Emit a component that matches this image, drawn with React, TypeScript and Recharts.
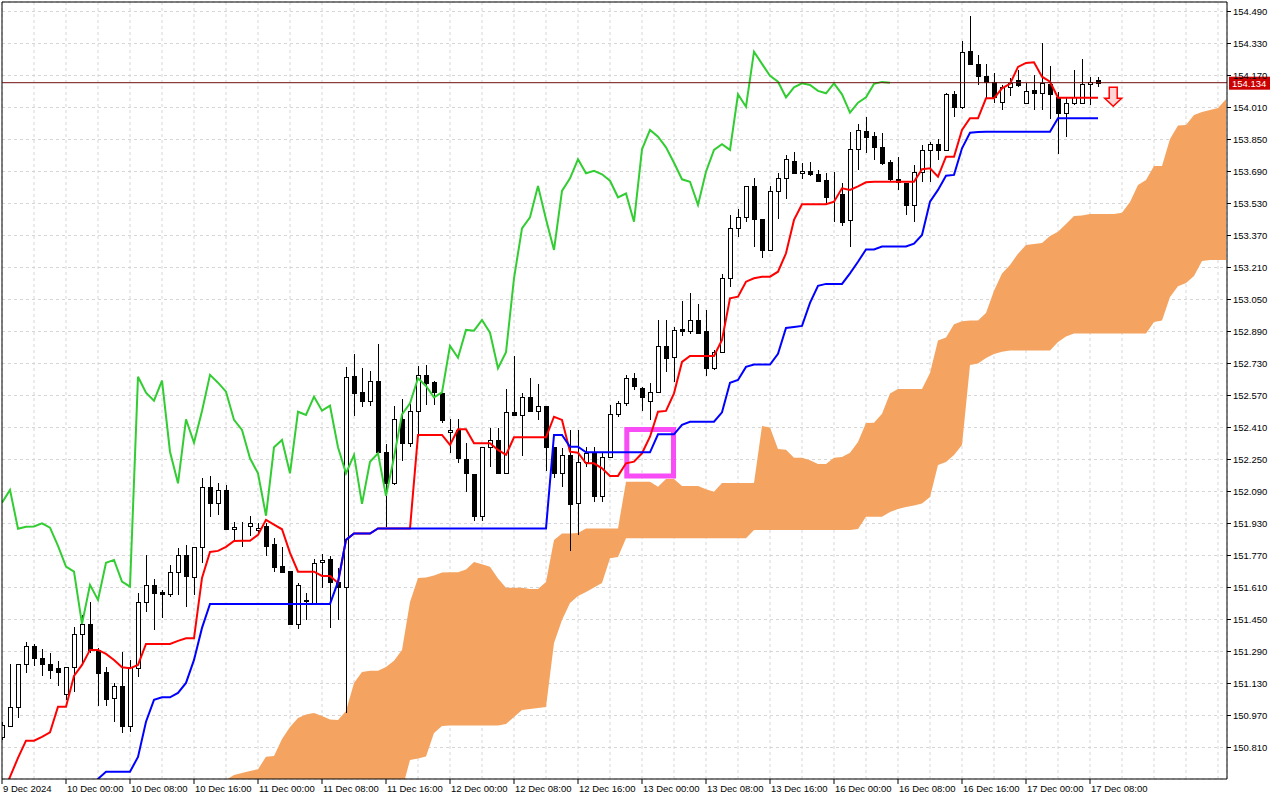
import {
  Area,
  Bar,
  CartesianGrid,
  ComposedChart,
  Line,
  ReferenceArea,
  ReferenceDot,
  ReferenceLine,
  XAxis,
  YAxis,
} from 'recharts'

// USDJPY H1, 9 Dec 16:00 .. 17 Dec 09:00, one row per bar: open, high, low, close
const CANDLES: [number, number, number, number][] = [
  [150.864, 150.938, 150.848, 150.923], [150.919, 151.228, 150.911, 151.011], [151.011, 151.228, 150.956, 151.226],
  [151.226, 151.339, 151.184, 151.316], [151.316, 151.328, 151.219, 151.256], [151.256, 151.301, 151.168, 151.226],
  [151.226, 151.281, 151.151, 151.199], [151.208, 151.244, 151.119, 151.186], [151.076, 151.211, 151.048, 151.211],
  [151.211, 151.414, 151.089, 151.376], [151.376, 151.473, 151.221, 151.426], [151.426, 151.536, 151.283, 151.298],
  [151.298, 151.308, 151.019, 151.184], [151.186, 151.214, 151.019, 151.054], [151.056, 151.134, 150.939, 151.116],
  [151.116, 151.289, 150.881, 150.919], [150.919, 151.248, 150.888, 151.214], [151.206, 151.581, 151.164, 151.539],
  [151.539, 151.773, 151.489, 151.623], [151.623, 151.653, 151.398, 151.584], [151.589, 151.598, 151.458, 151.576],
  [151.576, 151.723, 151.564, 151.689], [151.689, 151.808, 151.573, 151.773], [151.773, 151.823, 151.514, 151.668],
  [151.664, 151.811, 151.573, 151.811], [151.811, 152.156, 151.734, 152.111], [152.111, 152.168, 151.961, 152.034],
  [152.034, 152.131, 151.973, 152.098], [152.098, 152.123, 151.904, 151.904], [151.904, 151.939, 151.839, 151.914],
  [151.914, 151.939, 151.814, 151.915], [151.918, 151.968, 151.868, 151.931], [151.896, 151.931, 151.881, 151.909],
  [151.918, 151.931, 151.768, 151.818], [151.828, 151.856, 151.689, 151.714], [151.718, 151.811, 151.689, 151.689],
  [151.693, 151.693, 151.423, 151.428], [151.428, 151.631, 151.401, 151.623], [151.543, 151.581, 151.448, 151.548],
  [151.531, 151.751, 151.531, 151.734], [151.736, 151.776, 151.606, 151.748], [151.751, 151.768, 151.406, 151.639],
  [151.639, 151.708, 151.448, 151.614], [151.611, 152.711, 150.983, 152.664], [152.668, 152.778, 152.468, 152.584],
  [152.588, 152.706, 152.511, 152.544], [152.544, 152.694, 152.518, 152.644], [152.644, 152.828, 152.289, 152.289],
  [152.286, 152.328, 151.914, 152.131], [152.131, 152.518, 152.123, 152.451], [152.451, 152.551, 152.244, 152.334],
  [152.334, 152.534, 152.311, 152.493], [152.491, 152.718, 152.364, 152.673], [152.673, 152.723, 152.523, 152.634],
  [152.639, 152.644, 152.523, 152.589], [152.584, 152.589, 152.434, 152.448], [152.388, 152.451, 152.284, 152.398],
  [152.398, 152.451, 152.231, 152.256], [152.251, 152.331, 152.089, 152.181], [152.178, 152.178, 151.944, 151.969],
  [151.969, 152.311, 151.944, 152.311], [152.311, 152.406, 152.214, 152.348], [152.348, 152.406, 152.178, 152.181],
  [152.184, 152.601, 152.184, 152.489], [152.486, 152.768, 152.473, 152.473], [152.473, 152.581, 152.269, 152.564],
  [152.564, 152.656, 152.488, 152.494], [152.494, 152.626, 152.448, 152.519], [152.519, 152.519, 152.194, 152.311],
  [152.311, 152.311, 152.156, 152.181], [152.181, 152.306, 152.114, 152.273], [152.273, 152.398, 151.794, 152.028],
  [152.031, 152.398, 151.873, 152.239], [152.239, 152.314, 152.214, 152.281], [152.281, 152.314, 152.039, 152.068],
  [152.068, 152.281, 152.039, 152.261], [152.261, 152.523, 152.261, 152.476], [152.476, 152.544, 152.464, 152.531],
  [152.531, 152.673, 152.518, 152.656], [152.656, 152.684, 152.598, 152.618], [152.606, 152.614, 152.494, 152.561],
  [152.541, 152.634, 152.448, 152.586], [152.586, 152.948, 152.586, 152.818], [152.818, 152.948, 152.689, 152.759],
  [152.761, 152.914, 152.639, 152.898], [152.903, 153.044, 152.868, 152.894], [152.894, 153.084, 152.878, 152.948],
  [152.948, 153.026, 152.884, 152.884], [152.894, 152.998, 152.669, 152.706], [152.706, 152.798, 152.698, 152.786],
  [152.786, 153.178, 152.786, 153.156], [153.156, 153.473, 153.114, 153.406], [153.406, 153.501, 153.364, 153.461],
  [153.464, 153.618, 153.439, 153.618], [153.618, 153.656, 153.311, 153.451], [153.451, 153.451, 153.256, 153.298],
  [153.298, 153.618, 153.298, 153.593], [153.593, 153.684, 153.451, 153.656], [153.656, 153.773, 153.551, 153.751],
  [153.743, 153.789, 153.678, 153.681], [153.681, 153.731, 153.651, 153.693], [153.693, 153.739, 153.669, 153.676],
  [153.676, 153.698, 153.639, 153.644], [153.648, 153.681, 153.528, 153.561], [153.583, 153.686, 153.439, 153.58],
  [153.578, 153.634, 153.419, 153.439], [153.448, 153.889, 153.311, 153.801], [153.801, 153.928, 153.698, 153.898],
  [153.894, 153.961, 153.784, 153.864], [153.868, 153.889, 153.748, 153.811], [153.814, 153.884, 153.723, 153.734],
  [153.736, 153.748, 153.639, 153.651], [153.651, 153.764, 153.598, 153.639], [153.634, 153.634, 153.473, 153.523],
  [153.523, 153.723, 153.439, 153.689], [153.689, 153.823, 153.639, 153.798], [153.798, 153.839, 153.639, 153.826],
  [153.826, 153.851, 153.748, 153.798], [153.798, 154.084, 153.798, 154.076], [154.076, 154.094, 153.961, 154.014],
  [154.014, 154.344, 154.001, 154.289], [154.294, 154.468, 154.223, 154.228], [154.228, 154.273, 154.123, 154.168],
  [154.168, 154.228, 154.056, 154.139], [154.139, 154.184, 154.031, 154.061], [154.039, 154.123, 153.998, 154.111],
  [154.111, 154.156, 154.068, 154.131], [154.148, 154.198, 154.111, 154.123], [154.034, 154.131, 154.034, 154.093],
  [154.098, 154.173, 153.998, 154.081], [154.081, 154.331, 153.998, 154.131], [154.128, 154.218, 153.951, 154.076],
  [154.061, 154.089, 153.778, 153.984], [153.984, 154.061, 153.864, 154.034], [154.034, 154.198, 154.023, 154.061],
  [154.034, 154.251, 154.034, 154.128], [154.128, 154.164, 154.023, 154.138], [154.148, 154.164, 154.114, 154.134],
]

// Tenkan-sen (red), one value per bar
const TENKAN = [
  150.572, 150.663, 150.758, 150.844, 150.844, 150.863, 150.886, 151.014, 151.014, 151.168,
  151.223, 151.298, 151.298, 151.278, 151.248, 151.211, 151.206, 151.223, 151.328, 151.328,
  151.328, 151.328, 151.343, 151.356, 151.356, 151.658, 151.788, 151.793, 151.813, 151.843,
  151.844, 151.844, 151.873, 151.948, 151.924, 151.901, 151.783, 151.689, 151.689, 151.689,
  151.668, 151.668, 151.633, 151.848, 151.88, 151.88, 151.88, 151.905, 151.905, 151.905,
  151.905, 151.905, 152.373, 152.373, 152.373, 152.373, 152.323, 152.401, 152.401, 152.331,
  152.331, 152.331, 152.298, 152.273, 152.361, 152.361, 152.361, 152.361, 152.361, 152.464,
  152.448, 152.289, 152.284, 152.231, 152.231, 152.206, 152.168, 152.168, 152.231, 152.239,
  152.281, 152.364, 152.489, 152.493, 152.581, 152.738, 152.768, 152.768, 152.768, 152.768,
  152.848, 153.056, 153.064, 153.139, 153.156, 153.164, 153.164, 153.189, 153.281, 153.448,
  153.526, 153.526, 153.526, 153.526, 153.539, 153.606, 153.598, 153.616, 153.636, 153.639,
  153.639, 153.639, 153.639, 153.639, 153.639, 153.701, 153.706, 153.664, 153.764, 153.764,
  153.898, 153.956, 153.956, 154.056, 154.056, 154.106, 154.128, 154.213, 154.233, 154.236,
  154.164, 154.139, 154.059, 154.059, 154.059, 154.059, 154.059, 154.059,
]

// Kijun-sen (blue), below the visible range before bar 11
const KIJUN = [
  null, null, null, null, null, null, null, null, null, null,
  null, 150.613, 150.653, 150.689, 150.689, 150.689, 150.689, 150.763, 150.939, 151.048,
  151.061, 151.061, 151.083, 151.133, 151.248, 151.408, 151.528, 151.528, 151.528, 151.528,
  151.528, 151.528, 151.528, 151.528, 151.528, 151.528, 151.528, 151.528, 151.528, 151.528,
  151.528, 151.528, 151.638, 151.848, 151.88, 151.88, 151.88, 151.905, 151.905, 151.905,
  151.905, 151.905, 151.905, 151.905, 151.905, 151.905, 151.905, 151.905, 151.905, 151.905,
  151.905, 151.905, 151.905, 151.905, 151.905, 151.905, 151.905, 151.905, 151.905, 152.373,
  152.373, 152.314, 152.314, 152.286, 152.286, 152.286, 152.286, 152.286, 152.286, 152.286,
  152.286, 152.286, 152.376, 152.376, 152.376, 152.423, 152.439, 152.439, 152.439, 152.439,
  152.486, 152.634, 152.648, 152.713, 152.725, 152.725, 152.725, 152.778, 152.908, 152.913,
  152.918, 153.033, 153.118, 153.128, 153.128, 153.128, 153.181, 153.239, 153.3, 153.3,
  153.315, 153.315, 153.315, 153.315, 153.329, 153.373, 153.539, 153.598, 153.669, 153.673,
  153.806, 153.884, 153.888, 153.889, 153.889, 153.889, 153.889, 153.889, 153.889, 153.889,
  153.889, 153.889, 153.956, 153.956, 153.956, 153.956, 153.956, 153.956,
]

// Chikou span (green), drawn from bar 0 to bar 111
const CHIKOU = [
  152.034, 152.098, 151.904, 151.914, 151.915, 151.931, 151.909, 151.818, 151.714, 151.689,
  151.428, 151.623, 151.548, 151.734, 151.748, 151.639, 151.614, 152.664, 152.584, 152.544,
  152.644, 152.289, 152.131, 152.451, 152.334, 152.493, 152.673, 152.634, 152.589, 152.448,
  152.398, 152.256, 152.181, 151.969, 152.311, 152.348, 152.181, 152.489, 152.473, 152.564,
  152.494, 152.519, 152.311, 152.181, 152.273, 152.028, 152.239, 152.281, 152.068, 152.261,
  152.476, 152.531, 152.656, 152.618, 152.561, 152.586, 152.818, 152.759, 152.898, 152.894,
  152.948, 152.884, 152.706, 152.786, 153.156, 153.406, 153.461, 153.618, 153.451, 153.298,
  153.593, 153.656, 153.751, 153.681, 153.693, 153.676, 153.644, 153.561, 153.58, 153.439,
  153.801, 153.898, 153.864, 153.811, 153.734, 153.651, 153.639, 153.523, 153.689, 153.798,
  153.826, 153.798, 154.076, 154.014, 154.289, 154.228, 154.168, 154.139, 154.061, 154.111,
  154.131, 154.123, 154.093, 154.081, 154.131, 154.076, 153.984, 154.034, 154.061, 154.128,
  154.138, 154.134,
]

// Kumo edges from bar 28 to bar 153 (26 bars past the last candle)
const KUMO_START = 28
const SPAN_A = [
  150.648, 150.673, 150.683, 150.693, 150.701, 150.764, 150.768, 150.853, 150.913, 150.958,
  150.975, 150.983, 150.968, 150.95, 150.948, 150.993, 151.133, 151.188, 151.194, 151.194,
  151.213, 151.244, 151.298, 151.538, 151.658, 151.66, 151.67, 151.685, 151.686, 151.686,
  151.7, 151.738, 151.726, 151.714, 151.655, 151.609, 151.609, 151.609, 151.603, 151.603,
  151.638, 151.848, 151.88, 151.88, 151.883, 151.905, 151.905, 151.905, 151.905, 151.905,
  152.139, 152.139, 152.139, 152.139, 152.114, 152.153, 152.153, 152.118, 152.118, 152.118,
  152.101, 152.089, 152.133, 152.133, 152.133, 152.133, 152.133, 152.418, 152.41, 152.302,
  152.299, 152.259, 152.259, 152.246, 152.227, 152.227, 152.259, 152.263, 152.284, 152.338,
  152.433, 152.434, 152.479, 152.58, 152.603, 152.603, 152.603, 152.603, 152.683, 152.845,
  152.86, 152.926, 152.941, 152.945, 152.945, 152.983, 153.094, 153.18, 153.223, 153.279,
  153.322, 153.327, 153.333, 153.367, 153.389, 153.428, 153.468, 153.47, 153.477, 153.477,
  153.477, 153.477, 153.484, 153.537, 153.623, 153.648, 153.717, 153.718, 153.852, 153.92,
  153.922, 153.973, 153.988, 153.998, 154.008, 154.051,
]
const SPAN_B = [
  150.55, 150.55, 150.55, 150.55, 150.55, 150.55, 150.55, 150.55, 150.55, 150.55,
  150.55, 150.55, 150.55, 150.55, 150.55, 150.55, 150.55, 150.55, 150.55, 150.55,
  150.55, 150.55, 150.598, 150.748, 150.755, 150.765, 150.883, 150.918, 150.92, 150.92,
  150.92, 150.92, 150.92, 150.92, 150.92, 150.928, 150.963, 150.998, 151.003, 151.008,
  151.013, 151.333, 151.448, 151.533, 151.568, 151.588, 151.61, 151.633, 151.756, 151.763,
  151.856, 151.856, 151.856, 151.856, 151.856, 151.856, 151.856, 151.856, 151.856, 151.856,
  151.856, 151.856, 151.856, 151.856, 151.856, 151.856, 151.898, 151.898, 151.898, 151.898,
  151.898, 151.898, 151.898, 151.898, 151.898, 151.898, 151.898, 151.898, 151.898, 151.903,
  151.964, 151.964, 151.964, 151.988, 152.003, 152.013, 152.02, 152.03, 152.063, 152.223,
  152.238, 152.273, 152.323, 152.723, 152.73, 152.758, 152.778, 152.789, 152.795, 152.795,
  152.795, 152.795, 152.795, 152.795, 152.838, 152.865, 152.88, 152.88, 152.88, 152.88,
  152.88, 152.88, 152.88, 152.88, 152.88, 152.88, 152.938, 152.945, 153.063, 153.116,
  153.133, 153.168, 153.243, 153.248, 153.248, 153.248,
]

const PRICE_TICKS = [
  154.49, 154.33, 154.17, 154.01, 153.85, 153.69, 153.53, 153.37, 153.21, 153.05, 152.89, 152.73,
  152.57, 152.41, 152.25, 152.09, 151.93, 151.77, 151.61, 151.45, 151.29, 151.13, 150.97, 150.81,
]

const TIME_TICKS = [0, 8, 16, 24, 32, 40, 48, 56, 64, 72, 80, 88, 96, 104, 112, 120, 128, 136]
const TIME_LABELS = [
  '9 Dec 2024', '10 Dec 00:00', '10 Dec 08:00', '10 Dec 16:00', '11 Dec 00:00', '11 Dec 08:00',
  '11 Dec 16:00', '12 Dec 00:00', '12 Dec 08:00', '12 Dec 16:00', '13 Dec 00:00', '13 Dec 08:00',
  '13 Dec 16:00', '16 Dec 00:00', '16 Dec 08:00', '16 Dec 16:00', '17 Dec 00:00', '17 Dec 08:00',
]

const BID = 154.134
// drawn rectangle and sell arrow on the chart, in bar / price units
const BOX = { x1: 78.1, x2: 83.94, y1: 152.168, y2: 152.4 }
const ARROW = { bar: 138.9, price: 154.111 }

const X_DOMAIN: [number, number] = [0, 153.125]
const Y_DOMAIN: [number, number] = [150.6525, 154.5375]
const GRID_TICKS = Array.from({ length: 39 }, (_, k) => k * 4)
const FONT = '"Liberation Sans", Arial, sans-serif'

const BAR_COUNT = KUMO_START + SPAN_A.length

const rows = Array.from({ length: BAR_COUNT }, (_, i) => {
  const candle = CANDLES[i]
  const k = i - KUMO_START
  return {
    i,
    open: candle ? candle[0] : null,
    high: candle ? candle[1] : null,
    low: candle ? candle[2] : null,
    close: candle ? candle[3] : null,
    range: candle ? [candle[2], candle[1]] : null,
    tenkan: TENKAN[i] ?? null,
    kijun: KIJUN[i] ?? null,
    chikou: CHIKOU[i] ?? null,
    kumo: k >= 0 ? [SPAN_B[k], SPAN_A[k]] : null,
  }
})

function Candle(props: any) {
  const { x, y, width, height, payload } = props
  if (!payload || payload.open == null || !height) {
    return <g />
  }
  const cx = Math.round(x + width / 2) + 0.5
  const perUnit = height / (payload.high - payload.low)
  const top = Math.round(y + (payload.high - Math.max(payload.open, payload.close)) * perUnit)
  const bottom = Math.round(y + (payload.high - Math.min(payload.open, payload.close)) * perUnit)
  const bull = payload.close >= payload.open
  return (
    <g shapeRendering="crispEdges">
      <line x1={cx} x2={cx} y1={Math.round(y)} y2={Math.round(y + height)} stroke="#000" />
      <rect
        x={cx - 2}
        y={top + 0.5}
        width={4}
        height={Math.max(bottom - top, 0)}
        fill={bull ? '#fff' : '#000'}
        stroke="#000"
      />
    </g>
  )
}

function TimeTick({ x, y, payload }: any) {
  const label = TIME_LABELS[TIME_TICKS.indexOf(payload.value)]
  return (
    <text x={x + 1} y={y + 6} fontSize={9.5} fontFamily={FONT} fill="#000" textAnchor="start">
      {label}
    </text>
  )
}

function PriceTick({ x, y, payload }: any) {
  return (
    <text x={x} y={y + 3.4} fontSize={9.5} fontFamily={FONT} fill="#000" textAnchor="start">
      {Number(payload.value).toFixed(3)}
    </text>
  )
}

function PriceTag(props: any) {
  const { viewBox } = props
  if (!viewBox) {
    return null
  }
  const right = viewBox.x + viewBox.width
  return (
    <g>
      <rect x={right + 2} y={viewBox.y - 6} width={41} height={13} fill="#cc0000" />
      <text x={right + 5} y={viewBox.y + 4.3} fontSize={9.5} fontFamily={FONT} fill="#fff">
        {BID.toFixed(3)}
      </text>
    </g>
  )
}

function SellArrow(props: any) {
  const { cx, cy } = props
  if (cx == null || cy == null) {
    return <g />
  }
  const d = `M${cx - 4},${cy} L${cx + 4},${cy} L${cx + 4},${cy + 11} L${cx + 8.5},${cy + 11} L${cx},${cy + 19} L${cx - 8.5},${cy + 11} L${cx - 4},${cy + 11} Z`
  return <path d={d} fill="#ffd4d4" stroke="#ff0000" strokeWidth={1.5} />
}

export default function App() {
  return (
    <div style={{ width: 1280, height: 800, background: '#fff' }}>
      <style>{'body{margin:0;background:#fff}'}</style>
      <ComposedChart
        width={1280}
        height={800}
        data={rows}
        margin={{ top: 2, right: 0, bottom: 0, left: 2 }}
        style={{ fontFamily: FONT }}
      >
        <XAxis
          dataKey="i"
          type="number"
          domain={X_DOMAIN}
          ticks={TIME_TICKS}
          interval={0}
          allowDataOverflow
          height={21}
          tickSize={5}
          tickMargin={2}
          tick={<TimeTick />}
          axisLine={{ stroke: '#000' }}
          tickLine={{ stroke: '#000' }}
        />
        <XAxis xAxisId="grid" dataKey="i" type="number" domain={X_DOMAIN} ticks={GRID_TICKS} allowDataOverflow hide />
        <YAxis
          orientation="right"
          type="number"
          domain={Y_DOMAIN}
          ticks={PRICE_TICKS}
          interval={0}
          allowDataOverflow
          width={53}
          tickSize={4}
          tickMargin={2}
          tick={<PriceTick />}
          axisLine={{ stroke: '#000' }}
          tickLine={{ stroke: '#000' }}
        />
        <CartesianGrid xAxisId="grid" stroke="#d6d6d6" strokeDasharray="3 3" />
        <Area
          dataKey="kumo"
          type="linear"
          fill="#f4a460"
          fillOpacity={1}
          stroke="none"
          isAnimationActive={false}
        />
        <Bar dataKey="range" barSize={5} shape={<Candle />} isAnimationActive={false} />
        <Line dataKey="tenkan" type="linear" stroke="#ff0000" strokeWidth={2} dot={false} isAnimationActive={false} />
        <Line dataKey="kijun" type="linear" stroke="#0000ff" strokeWidth={2} dot={false} isAnimationActive={false} />
        <Line dataKey="chikou" type="linear" stroke="#32cd32" strokeWidth={2} dot={false} isAnimationActive={false} />
        <ReferenceLine x={X_DOMAIN[0]} stroke="#000" />
        <ReferenceLine y={Y_DOMAIN[1]} stroke="#000" />
        <ReferenceLine y={BID} stroke="#701010" label={PriceTag} />
        <ReferenceArea
          x1={BOX.x1}
          x2={BOX.x2}
          y1={BOX.y1}
          y2={BOX.y2}
          fill="none"
          fillOpacity={0}
          stroke="#f84cf6"
          strokeWidth={5}
          ifOverflow="visible"
        />
        <ReferenceDot x={ARROW.bar} y={ARROW.price} r={0} shape={SellArrow} ifOverflow="visible" />
      </ComposedChart>
    </div>
  )
}
